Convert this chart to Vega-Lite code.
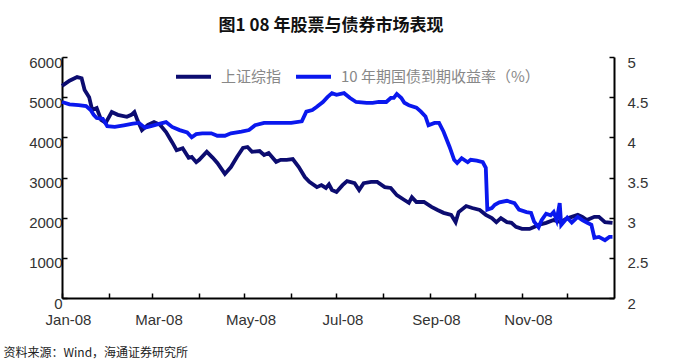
{
  "$schema": "https://vega.github.io/schema/vega-lite/v6.json",
  "autosize": {"type": "none"},
  "width": 552,
  "height": 241,
  "padding": {"left": 62, "top": 57, "right": 63, "bottom": 66},
  "background": "white",
  "title": {
    "text": "图1 08 年股票与债券市场表现",
    "font": "Noto Sans CJK SC",
    "fontSize": 17,
    "fontWeight": "bold",
    "color": "#111",
    "anchor": "middle",
    "baseline": "bottom",
    "offset": 3,
    "dx": -7
  },
  "config": {
    "view": {"stroke": null},
    "axis": {
      "labelFont": "Liberation Sans",
      "labelFontSize": 15,
      "labelColor": "#333",
      "domainColor": "#000",
      "domainWidth": 2,
      "tickColor": "#000",
      "tickWidth": 1.5,
      "grid": false
    }
  },
  "data": {
    "values": [
      {"d": "2008-01-01", "s": "上证综指", "v": 5280},
      {"d": "2008-01-06", "s": "上证综指", "v": 5410},
      {"d": "2008-01-11", "s": "上证综指", "v": 5500},
      {"d": "2008-01-14", "s": "上证综指", "v": 5470},
      {"d": "2008-01-16", "s": "上证综指", "v": 5180},
      {"d": "2008-01-19", "s": "上证综指", "v": 5000},
      {"d": "2008-01-21", "s": "上证综指", "v": 4680},
      {"d": "2008-01-24", "s": "上证综指", "v": 4730},
      {"d": "2008-01-27", "s": "上证综指", "v": 4430},
      {"d": "2008-01-30", "s": "上证综指", "v": 4360},
      {"d": "2008-02-03", "s": "上证综指", "v": 4630},
      {"d": "2008-02-07", "s": "上证综指", "v": 4560},
      {"d": "2008-02-13", "s": "上证综指", "v": 4510},
      {"d": "2008-02-16", "s": "上证综指", "v": 4560},
      {"d": "2008-02-18", "s": "上证综指", "v": 4630},
      {"d": "2008-02-20", "s": "上证综指", "v": 4430},
      {"d": "2008-02-23", "s": "上证综指", "v": 4180},
      {"d": "2008-02-27", "s": "上证综指", "v": 4310},
      {"d": "2008-03-02", "s": "上证综指", "v": 4380},
      {"d": "2008-03-06", "s": "上证综指", "v": 4310},
      {"d": "2008-03-10", "s": "上证综指", "v": 4130},
      {"d": "2008-03-14", "s": "上证综指", "v": 3880},
      {"d": "2008-03-17", "s": "上证综指", "v": 3680},
      {"d": "2008-03-21", "s": "上证综指", "v": 3730},
      {"d": "2008-03-25", "s": "上证综指", "v": 3490},
      {"d": "2008-03-27", "s": "上证综指", "v": 3510},
      {"d": "2008-03-30", "s": "上证综指", "v": 3380},
      {"d": "2008-04-01", "s": "上证综指", "v": 3440},
      {"d": "2008-04-06", "s": "上证综指", "v": 3640},
      {"d": "2008-04-10", "s": "上证综指", "v": 3490},
      {"d": "2008-04-13", "s": "上证综指", "v": 3360},
      {"d": "2008-04-18", "s": "上证综指", "v": 3090},
      {"d": "2008-04-22", "s": "上证综指", "v": 3260},
      {"d": "2008-04-26", "s": "上证综指", "v": 3510},
      {"d": "2008-04-30", "s": "上证综指", "v": 3735},
      {"d": "2008-05-03", "s": "上证综指", "v": 3760},
      {"d": "2008-05-06", "s": "上证综指", "v": 3640},
      {"d": "2008-05-11", "s": "上证综指", "v": 3660},
      {"d": "2008-05-14", "s": "上证综指", "v": 3560},
      {"d": "2008-05-17", "s": "上证综指", "v": 3610},
      {"d": "2008-05-22", "s": "上证综指", "v": 3390},
      {"d": "2008-05-25", "s": "上证综指", "v": 3440},
      {"d": "2008-05-29", "s": "上证综指", "v": 3440},
      {"d": "2008-06-02", "s": "上证综指", "v": 3460},
      {"d": "2008-06-06", "s": "上证综指", "v": 3260},
      {"d": "2008-06-10", "s": "上证综指", "v": 3010},
      {"d": "2008-06-13", "s": "上证综指", "v": 2890},
      {"d": "2008-06-18", "s": "上证综指", "v": 2760},
      {"d": "2008-06-21", "s": "上证综指", "v": 2810},
      {"d": "2008-06-24", "s": "上证综指", "v": 2740},
      {"d": "2008-06-26", "s": "上证综指", "v": 2830},
      {"d": "2008-06-28", "s": "上证综指", "v": 2690},
      {"d": "2008-07-01", "s": "上证综指", "v": 2640},
      {"d": "2008-07-05", "s": "上证综指", "v": 2810},
      {"d": "2008-07-08", "s": "上证综指", "v": 2910},
      {"d": "2008-07-13", "s": "上证综指", "v": 2860},
      {"d": "2008-07-16", "s": "上证综指", "v": 2690},
      {"d": "2008-07-19", "s": "上证综指", "v": 2860},
      {"d": "2008-07-24", "s": "上证综指", "v": 2890},
      {"d": "2008-07-28", "s": "上证综指", "v": 2890},
      {"d": "2008-08-02", "s": "上证综指", "v": 2760},
      {"d": "2008-08-06", "s": "上证综指", "v": 2740},
      {"d": "2008-08-10", "s": "上证综指", "v": 2560},
      {"d": "2008-08-15", "s": "上证综指", "v": 2440},
      {"d": "2008-08-18", "s": "上证综指", "v": 2370},
      {"d": "2008-08-20", "s": "上证综指", "v": 2510},
      {"d": "2008-08-23", "s": "上证综指", "v": 2390},
      {"d": "2008-08-28", "s": "上证综指", "v": 2390},
      {"d": "2008-09-02", "s": "上证综指", "v": 2270},
      {"d": "2008-09-06", "s": "上证综指", "v": 2190},
      {"d": "2008-09-10", "s": "上证综指", "v": 2120},
      {"d": "2008-09-15", "s": "上证综指", "v": 2070},
      {"d": "2008-09-18", "s": "上证综指", "v": 1890},
      {"d": "2008-09-20", "s": "上证综指", "v": 2140},
      {"d": "2008-09-25", "s": "上证综指", "v": 2290},
      {"d": "2008-09-29", "s": "上证综指", "v": 2240},
      {"d": "2008-10-04", "s": "上证综指", "v": 2190},
      {"d": "2008-10-08", "s": "上证综指", "v": 2070},
      {"d": "2008-10-12", "s": "上证综指", "v": 1990},
      {"d": "2008-10-15", "s": "上证综指", "v": 1890},
      {"d": "2008-10-18", "s": "上证综指", "v": 1990},
      {"d": "2008-10-22", "s": "上证综指", "v": 1890},
      {"d": "2008-10-25", "s": "上证综指", "v": 1870},
      {"d": "2008-10-28", "s": "上证综指", "v": 1770},
      {"d": "2008-11-01", "s": "上证综指", "v": 1720},
      {"d": "2008-11-06", "s": "上证综指", "v": 1720},
      {"d": "2008-11-09", "s": "上证综指", "v": 1770},
      {"d": "2008-11-12", "s": "上证综指", "v": 1820},
      {"d": "2008-11-17", "s": "上证综指", "v": 1870},
      {"d": "2008-11-22", "s": "上证综指", "v": 1940},
      {"d": "2008-11-27", "s": "上证综指", "v": 1890},
      {"d": "2008-11-30", "s": "上证综指", "v": 1970},
      {"d": "2008-12-04", "s": "上证综指", "v": 2020},
      {"d": "2008-12-08", "s": "上证综指", "v": 2070},
      {"d": "2008-12-11", "s": "上证综指", "v": 2020},
      {"d": "2008-12-14", "s": "上证综指", "v": 1940},
      {"d": "2008-12-19", "s": "上证综指", "v": 2020},
      {"d": "2008-12-22", "s": "上证综指", "v": 2020},
      {"d": "2008-12-26", "s": "上证综指", "v": 1890},
      {"d": "2008-12-31", "s": "上证综指", "v": 1870},
      {"d": "2008-01-01", "s": "10 年期国债到期收益率（%）", "v": 4.44},
      {"d": "2008-01-06", "s": "10 年期国债到期收益率（%）", "v": 4.41},
      {"d": "2008-01-12", "s": "10 年期国债到期收益率（%）", "v": 4.40},
      {"d": "2008-01-17", "s": "10 年期国债到期收益率（%）", "v": 4.39},
      {"d": "2008-01-20", "s": "10 年期国债到期收益率（%）", "v": 4.34},
      {"d": "2008-01-22", "s": "10 年期国债到期收益率（%）", "v": 4.28},
      {"d": "2008-01-24", "s": "10 年期国债到期收益率（%）", "v": 4.24},
      {"d": "2008-01-28", "s": "10 年期国债到期收益率（%）", "v": 4.23},
      {"d": "2008-01-31", "s": "10 年期国债到期收益率（%）", "v": 4.14},
      {"d": "2008-02-05", "s": "10 年期国债到期收益率（%）", "v": 4.13},
      {"d": "2008-02-11", "s": "10 年期国债到期收益率（%）", "v": 4.15},
      {"d": "2008-02-17", "s": "10 年期国债到期收益率（%）", "v": 4.17},
      {"d": "2008-02-21", "s": "10 年期国债到期收益率（%）", "v": 4.18},
      {"d": "2008-02-25", "s": "10 年期国债到期收益率（%）", "v": 4.12},
      {"d": "2008-02-29", "s": "10 年期国债到期收益率（%）", "v": 4.14},
      {"d": "2008-03-06", "s": "10 年期国债到期收益率（%）", "v": 4.17},
      {"d": "2008-03-10", "s": "10 年期国债到期收益率（%）", "v": 4.19},
      {"d": "2008-03-14", "s": "10 年期国债到期收益率（%）", "v": 4.13},
      {"d": "2008-03-19", "s": "10 年期国债到期收益率（%）", "v": 4.09},
      {"d": "2008-03-24", "s": "10 年期国债到期收益率（%）", "v": 4.06},
      {"d": "2008-03-27", "s": "10 年期国债到期收益率（%）", "v": 4.00},
      {"d": "2008-03-30", "s": "10 年期国债到期收益率（%）", "v": 4.04},
      {"d": "2008-04-03", "s": "10 年期国债到期收益率（%）", "v": 4.05},
      {"d": "2008-04-09", "s": "10 年期国债到期收益率（%）", "v": 4.05},
      {"d": "2008-04-13", "s": "10 年期国债到期收益率（%）", "v": 4.02},
      {"d": "2008-04-18", "s": "10 年期国债到期收益率（%）", "v": 4.02},
      {"d": "2008-04-22", "s": "10 年期国债到期收益率（%）", "v": 4.05},
      {"d": "2008-04-29", "s": "10 年期国债到期收益率（%）", "v": 4.07},
      {"d": "2008-05-04", "s": "10 年期国债到期收益率（%）", "v": 4.09},
      {"d": "2008-05-08", "s": "10 年期国债到期收益率（%）", "v": 4.15},
      {"d": "2008-05-14", "s": "10 年期国债到期收益率（%）", "v": 4.18},
      {"d": "2008-05-23", "s": "10 年期国债到期收益率（%）", "v": 4.18},
      {"d": "2008-06-01", "s": "10 年期国债到期收益率（%）", "v": 4.18},
      {"d": "2008-06-08", "s": "10 年期国债到期收益率（%）", "v": 4.20},
      {"d": "2008-06-11", "s": "10 年期国债到期收益率（%）", "v": 4.32},
      {"d": "2008-06-15", "s": "10 年期国债到期收益率（%）", "v": 4.34},
      {"d": "2008-06-18", "s": "10 年期国债到期收益率（%）", "v": 4.38},
      {"d": "2008-06-22", "s": "10 年期国债到期收益率（%）", "v": 4.44},
      {"d": "2008-06-25", "s": "10 年期国债到期收益率（%）", "v": 4.50},
      {"d": "2008-06-28", "s": "10 年期国债到期收益率（%）", "v": 4.55},
      {"d": "2008-07-01", "s": "10 年期国债到期收益率（%）", "v": 4.53},
      {"d": "2008-07-06", "s": "10 年期国债到期收益率（%）", "v": 4.55},
      {"d": "2008-07-10", "s": "10 年期国债到期收益率（%）", "v": 4.49},
      {"d": "2008-07-14", "s": "10 年期国债到期收益率（%）", "v": 4.44},
      {"d": "2008-07-21", "s": "10 年期国债到期收益率（%）", "v": 4.43},
      {"d": "2008-07-25", "s": "10 年期国债到期收益率（%）", "v": 4.43},
      {"d": "2008-07-29", "s": "10 年期国债到期收益率（%）", "v": 4.44},
      {"d": "2008-08-03", "s": "10 年期国债到期收益率（%）", "v": 4.44},
      {"d": "2008-08-06", "s": "10 年期国债到期收益率（%）", "v": 4.49},
      {"d": "2008-08-08", "s": "10 年期国债到期收益率（%）", "v": 4.49},
      {"d": "2008-08-10", "s": "10 年期国债到期收益率（%）", "v": 4.54},
      {"d": "2008-08-13", "s": "10 年期国债到期收益率（%）", "v": 4.49},
      {"d": "2008-08-15", "s": "10 年期国债到期收益率（%）", "v": 4.43},
      {"d": "2008-08-18", "s": "10 年期国债到期收益率（%）", "v": 4.40},
      {"d": "2008-08-23", "s": "10 年期国债到期收益率（%）", "v": 4.37},
      {"d": "2008-08-26", "s": "10 年期国债到期收益率（%）", "v": 4.32},
      {"d": "2008-08-29", "s": "10 年期国债到期收益率（%）", "v": 4.26},
      {"d": "2008-08-31", "s": "10 年期国债到期收益率（%）", "v": 4.15},
      {"d": "2008-09-04", "s": "10 年期国债到期收益率（%）", "v": 4.18},
      {"d": "2008-09-07", "s": "10 年期国债到期收益率（%）", "v": 4.18},
      {"d": "2008-09-10", "s": "10 年期国债到期收益率（%）", "v": 4.07},
      {"d": "2008-09-14", "s": "10 年期国债到期收益率（%）", "v": 3.88},
      {"d": "2008-09-17", "s": "10 年期国债到期收益率（%）", "v": 3.72},
      {"d": "2008-09-19", "s": "10 年期国债到期收益率（%）", "v": 3.68},
      {"d": "2008-09-22", "s": "10 年期国债到期收益率（%）", "v": 3.74},
      {"d": "2008-09-26", "s": "10 年期国债到期收益率（%）", "v": 3.69},
      {"d": "2008-09-28", "s": "10 年期国债到期收益率（%）", "v": 3.72},
      {"d": "2008-10-02", "s": "10 年期国债到期收益率（%）", "v": 3.71},
      {"d": "2008-10-06", "s": "10 年期国债到期收益率（%）", "v": 3.69},
      {"d": "2008-10-08", "s": "10 年期国债到期收益率（%）", "v": 3.62},
      {"d": "2008-10-09", "s": "10 年期国债到期收益率（%）", "v": 3.10},
      {"d": "2008-10-12", "s": "10 年期国债到期收益率（%）", "v": 3.12},
      {"d": "2008-10-14", "s": "10 年期国债到期收益率（%）", "v": 3.16},
      {"d": "2008-10-17", "s": "10 年期国债到期收益率（%）", "v": 3.19},
      {"d": "2008-10-22", "s": "10 年期国债到期收益率（%）", "v": 3.21},
      {"d": "2008-10-27", "s": "10 年期国债到期收益率（%）", "v": 3.18},
      {"d": "2008-10-30", "s": "10 年期国债到期收益率（%）", "v": 3.10},
      {"d": "2008-11-04", "s": "10 年期国债到期收益率（%）", "v": 3.07},
      {"d": "2008-11-07", "s": "10 年期国债到期收益率（%）", "v": 3.06},
      {"d": "2008-11-09", "s": "10 年期国债到期收益率（%）", "v": 2.95},
      {"d": "2008-11-12", "s": "10 年期国债到期收益率（%）", "v": 2.88},
      {"d": "2008-11-14", "s": "10 年期国债到期收益率（%）", "v": 2.97},
      {"d": "2008-11-17", "s": "10 年期国债到期收益率（%）", "v": 3.05},
      {"d": "2008-11-20", "s": "10 年期国债到期收益率（%）", "v": 3.03},
      {"d": "2008-11-22", "s": "10 年期国债到期收益率（%）", "v": 3.07},
      {"d": "2008-11-24", "s": "10 年期国债到期收益率（%）", "v": 2.97},
      {"d": "2008-11-26", "s": "10 年期国债到期收益率（%）", "v": 3.18},
      {"d": "2008-11-27", "s": "10 年期国债到期收益率（%）", "v": 2.91},
      {"d": "2008-12-01", "s": "10 年期国债到期收益率（%）", "v": 3.00},
      {"d": "2008-12-04", "s": "10 年期国债到期收益率（%）", "v": 2.94},
      {"d": "2008-12-08", "s": "10 年期国债到期收益率（%）", "v": 3.01},
      {"d": "2008-12-11", "s": "10 年期国债到期收益率（%）", "v": 2.97},
      {"d": "2008-12-14", "s": "10 年期国债到期收益率（%）", "v": 2.94},
      {"d": "2008-12-17", "s": "10 年期国债到期收益率（%）", "v": 2.91},
      {"d": "2008-12-19", "s": "10 年期国债到期收益率（%）", "v": 2.75},
      {"d": "2008-12-22", "s": "10 年期国债到期收益率（%）", "v": 2.76},
      {"d": "2008-12-26", "s": "10 年期国债到期收益率（%）", "v": 2.72},
      {"d": "2008-12-29", "s": "10 年期国债到期收益率（%）", "v": 2.76},
      {"d": "2008-12-31", "s": "10 年期国债到期收益率（%）", "v": 2.76}
    ]
  },
  "encoding": {
    "x": {
      "field": "d",
      "type": "temporal",
      "scale": {
        "type": "utc",
        "domain": [
          {"year": 2008, "month": 1, "date": 1, "utc": true},
          {"year": 2009, "month": 1, "date": 1, "utc": true}
        ],
        "nice": false
      },
      "axis": {
        "title": "资料来源：Wind，海通证券研究所",
        "titleFont": "Noto Sans CJK SC",
        "titleFontSize": 12,
        "titleFontWeight": "normal",
        "titleColor": "#222",
        "titleAnchor": "start",
        "titleAlign": "left",
        "titleBaseline": "middle",
        "titleX": -59,
        "titleY": 54,
        "values": [
          {"year": 2008, "month": 1, "date": 1, "utc": true},
          {"year": 2008, "month": 2, "date": 1, "utc": true},
          {"year": 2008, "month": 3, "date": 1, "utc": true},
          {"year": 2008, "month": 4, "date": 1, "utc": true},
          {"year": 2008, "month": 5, "date": 1, "utc": true},
          {"year": 2008, "month": 6, "date": 1, "utc": true},
          {"year": 2008, "month": 7, "date": 1, "utc": true},
          {"year": 2008, "month": 8, "date": 1, "utc": true},
          {"year": 2008, "month": 9, "date": 1, "utc": true},
          {"year": 2008, "month": 10, "date": 1, "utc": true},
          {"year": 2008, "month": 11, "date": 1, "utc": true},
          {"year": 2008, "month": 12, "date": 1, "utc": true}
        ],
        "labelExpr": "utcmonth(datum.value) % 2 == 0 ? utcFormat(datum.value, '%b-%y') : ''",
        "tickSize": -5,
        "labelPadding": 19,
        "labelOffset": 6,
        "labelFlush": false,
        "labelOverlap": false
      }
    },
    "color": {
      "field": "s",
      "type": "nominal",
      "scale": {
        "domain": ["上证综指", "10 年期国债到期收益率（%）"],
        "range": ["#0c0c70", "#0a18ee"]
      },
      "legend": {
        "title": null,
        "orient": "none",
        "legendX": 112,
        "legendY": 0,
        "direction": "horizontal",
        "symbolType": "stroke",
        "symbolSize": 1225,
        "symbolStrokeWidth": 4,
        "labelFont": "Noto Sans CJK SC",
        "labelFontSize": 15,
        "labelColor": "#888",
        "labelOffset": 8,
        "labelLimit": 400,
        "columnPadding": 6,
        "padding": 0
      }
    }
  },
  "layer": [
    {
      "transform": [{"filter": "datum.s == '上证综指'"}],
      "mark": {"type": "line", "strokeWidth": 3.8},
      "encoding": {
        "y": {
          "field": "v",
          "type": "quantitative",
          "scale": {"domain": [0, 6000], "nice": false},
          "axis": {
            "title": null,
            "orient": "left",
            "values": [0, 1000, 2000, 3000, 4000, 5000, 6000],
            "format": "d",
            "tickSize": -5,
            "labelPadding": 5,
            "labelOffset": 5
          }
        }
      }
    },
    {
      "transform": [{"filter": "datum.s != '上证综指'"}],
      "mark": {"type": "line", "strokeWidth": 3.8},
      "encoding": {
        "y": {
          "field": "v",
          "type": "quantitative",
          "scale": {"domain": [2, 5], "nice": false},
          "axis": {
            "title": null,
            "orient": "right",
            "values": [2, 2.5, 3, 3.5, 4, 4.5, 5],
            "format": "~g",
            "tickSize": -5,
            "labelPadding": 18,
            "labelOffset": 5
          }
        }
      }
    }
  ],
  "resolve": {"scale": {"y": "independent"}}
}
